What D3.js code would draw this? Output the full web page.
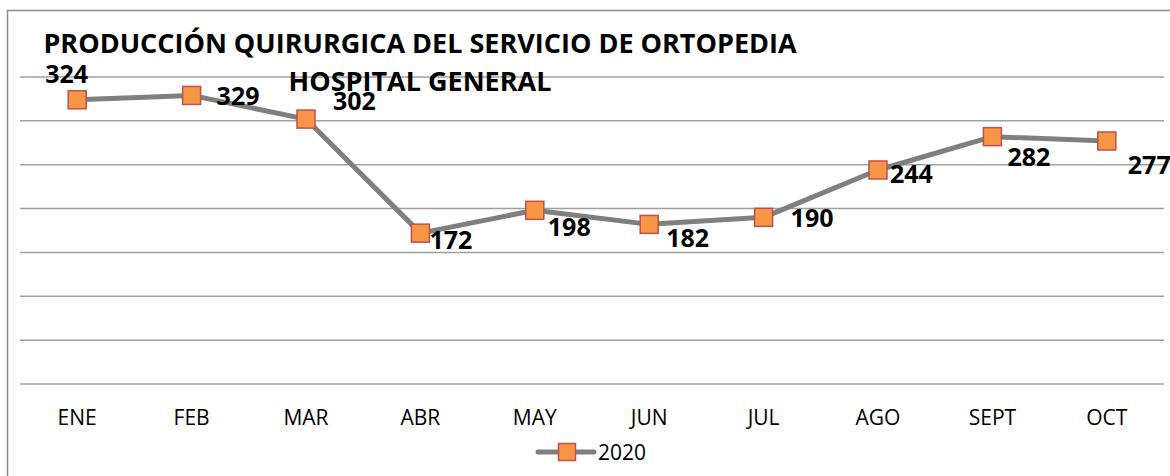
<!DOCTYPE html>
<html>
<head>
<meta charset="utf-8">
<script src="https://cdn.jsdelivr.net/npm/d3@7"></script>
<style>
  body { margin: 0; background: #fff; }
  svg { display: block; font-family: "Open Sans", sans-serif; }
</style>
</head>
<body>
<div id="chart"></div>
<script>
// chart data
var months = ["ENE", "FEB", "MAR", "ABR", "MAY", "JUN", "JUL", "AGO", "SEPT", "OCT"];
var values2020 = [324, 329, 302, 172, 198, 182, 190, 244, 282, 277];
var seriesName = "2020";
var titleLines = ["PRODUCCIÓN QUIRURGICA DEL SERVICIO DE ORTOPEDIA", "HOSPITAL GENERAL"];
var gridValues = [0, 50, 100, 150, 200, 250, 300, 350];

// where each data label sits relative to its marker (dx, dy of baseline-left)
var labelOffsets = [[-32, -17], [25, 10], [27, -9], [9, 16], [13, 26], [17, 23], [27, 10], [12, 13], [15, 29], [21, 33]];

var svgWidth = 1170;
var svgHeight = 476;

var svg = d3.select("#chart")
  .append("svg")
  .attr("width", svgWidth)
  .attr("height", svgHeight);

// outer frame (right/bottom run off the picture)
svg.append("rect")
  .attr("x", 7.5)
  .attr("y", 10.5)
  .attr("width", 1200)
  .attr("height", 500)
  .attr("fill", "none")
  .attr("stroke", "#8c8c8c")
  .attr("stroke-width", 1.5);

var xScale = d3.scaleBand()
  .domain(months)
  .range([20, 1164]);

var yScale = d3.scaleLinear()
  .domain([0, 350])
  .range([384, 77]);

// gridlines
svg.append("g").selectAll("line")
  .data(gridValues)
  .enter()
  .append("line")
  .attr("x1", 20)
  .attr("x2", 1164)
  .attr("y1", d => yScale(d))
  .attr("y2", d => yScale(d))
  .attr("stroke", "#a0a0a0")
  .attr("stroke-width", 1.5);

// month labels
var bottomAxis = d3.axisBottom(xScale).tickSize(0).tickPadding(0);
var xAxisG = svg.append("g")
  .attr("transform", "translate(0, 384)")
  .call(bottomAxis);
xAxisG.select(".domain").remove();
xAxisG.selectAll("text")
  .attr("y", 0)
  .attr("dy", 0)
  .attr("transform", "translate(0, 41)")
  .attr("font-family", "Open Sans")
  .attr("font-size", "21px")
  .attr("fill", "#000");

// title
svg.append("g").selectAll("text")
  .data(titleLines)
  .enter()
  .append("text")
  .attr("x", 420)
  .attr("y", (d, i) => 53 + i * 38)
  .attr("text-anchor", "middle")
  .attr("font-size", "27px")
  .attr("font-weight", "bold")
  .attr("fill", "#000")
  .text(d => d);

// the line
var line = d3.line()
  .x((d, i) => xScale(months[i]) + xScale.bandwidth() / 2)
  .y(d => yScale(d));

svg.append("path")
  .datum(values2020)
  .attr("d", line)
  .attr("fill", "none")
  .attr("stroke", "#7f7f7f")
  .attr("stroke-width", 5)
  .attr("stroke-linejoin", "round");

// markers
var mSize = 18;
svg.append("g").selectAll("rect")
  .data(values2020)
  .enter()
  .append("rect")
  .attr("x", (d, i) => xScale(months[i]) + xScale.bandwidth() / 2 - mSize / 2)
  .attr("y", d => yScale(d) - mSize / 2)
  .attr("width", mSize)
  .attr("height", mSize)
  .attr("fill", "#f79646")
  .attr("stroke", "#c0504d")
  .attr("stroke-width", 1.5);

// data labels
svg.append("g").selectAll("text")
  .data(values2020)
  .enter()
  .append("text")
  .attr("x", (d, i) => xScale(months[i]) + xScale.bandwidth() / 2 + labelOffsets[i][0])
  .attr("y", (d, i) => yScale(d) + labelOffsets[i][1])
  .attr("font-size", "25px")
  .attr("font-weight", "bold")
  .attr("fill", "#000")
  .text(d => d);

// legend
var legend = svg.append("g").attr("transform", "translate(538, 452)");
legend.append("line")
  .attr("x1", 0)
  .attr("x2", 56)
  .attr("stroke", "#7f7f7f")
  .attr("stroke-width", 5)
  .attr("stroke-linecap", "round");
legend.append("rect")
  .attr("x", 29 - 8.5)
  .attr("y", -8.5)
  .attr("width", 17)
  .attr("height", 17)
  .attr("fill", "#f79646")
  .attr("stroke", "#c0504d")
  .attr("stroke-width", 1.5);
legend.append("text")
  .attr("x", 60)
  .attr("y", 8)
  .attr("font-size", "21px")
  .attr("fill", "#000")
  .text(seriesName);
</script>
</body>
</html>
